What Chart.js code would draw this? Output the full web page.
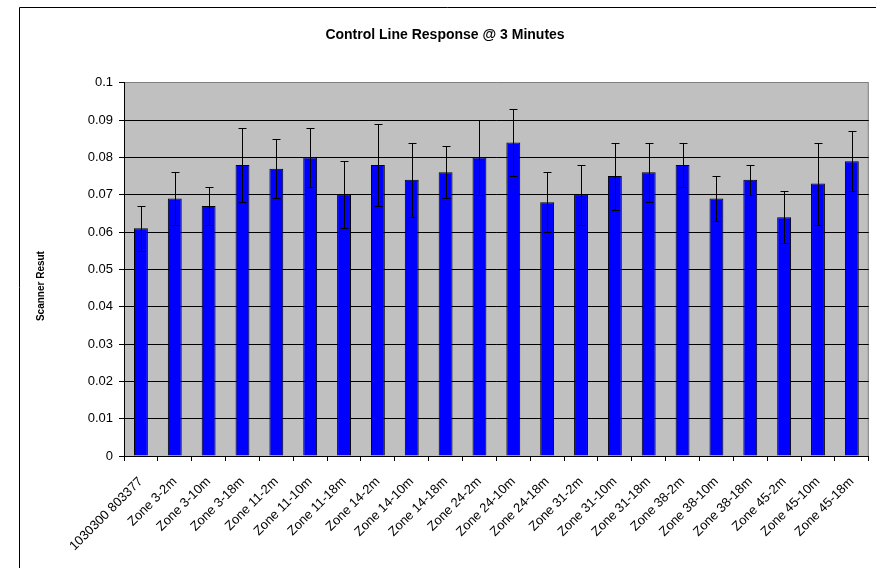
<!DOCTYPE html>
<html>
<head>
<meta charset="utf-8">
<title>Control Line Response @ 3 Minutes</title>
<script src="https://cdn.jsdelivr.net/npm/chart.js@4/dist/chart.umd.min.js"></script>
<style>
    html, body { margin: 0; padding: 0; background: #fff; }
    #wrap { width: 876px; height: 568px; position: relative; }
</style>
</head>
<body>
<div id="wrap"><canvas id="chart"></canvas></div>
<script>
// values
const categories = [
    "1030300 803377", "Zone 3-2m", "Zone 3-10m", "Zone 3-18m",
    "Zone 11-2m", "Zone 11-10m", "Zone 11-18m", "Zone 14-2m",
    "Zone 14-10m", "Zone 14-18m", "Zone 24-2m", "Zone 24-10m",
    "Zone 24-18m", "Zone 31-2m", "Zone 31-10m", "Zone 31-18m",
    "Zone 38-2m", "Zone 38-10m", "Zone 38-18m", "Zone 45-2m",
    "Zone 45-10m", "Zone 45-18m",
];
const scannerResult = [
    0.061, 0.069, 0.067, 0.078, 0.077, 0.080, 0.070, 0.078,
    0.074, 0.076, 0.080, 0.084, 0.068, 0.070, 0.075, 0.076,
    0.078, 0.069, 0.074, 0.064, 0.073, 0.079,
];
// symmetric error (+/-)
const errorAmount = [
    0.006, 0.007, 0.005, 0.010, 0.008, 0.008, 0.009, 0.011,
    0.010, 0.007, 0.010, 0.009, 0.008, 0.008, 0.009, 0.008,
    0.006, 0.006, 0.004, 0.007, 0.011, 0.008,
];
const yTicks = [0, 0.01, 0.02, 0.03, 0.04, 0.05, 0.06, 0.07, 0.08, 0.09, 0.1];

const FONT = "Arial, 'Liberation Sans', sans-serif";

// grey plot area + outer frame
const backdrop = {
    id: "backdrop",
    beforeDraw(chart) {
        const { ctx, chartArea: a } = chart;
        ctx.save();
        ctx.fillStyle = "#c0c0c0";
        ctx.fillRect(a.left, a.top, a.right - a.left, a.bottom - a.top);
        ctx.strokeStyle = "#808080";
        ctx.lineWidth = 1;
        ctx.beginPath();
        ctx.moveTo(a.right - 0.5, a.top);
        ctx.lineTo(a.right - 0.5, a.bottom);
        ctx.stroke();
        // chart frame (left + top edge visible)
        ctx.strokeStyle = "#000";
        ctx.beginPath();
        ctx.moveTo(19.5, chart.height);
        ctx.lineTo(19.5, 7.5);
        ctx.lineTo(chart.width, 7.5);
        ctx.stroke();
        ctx.restore();
    },
};

// error bars drawn from the y scale
const errorBars = {
    id: "errorBars",
    afterDatasetsDraw(chart) {
        const { ctx } = chart;
        const y = chart.scales.y;
        const meta = chart.getDatasetMeta(0);
        ctx.save();
        ctx.strokeStyle = "#000";
        ctx.lineWidth = 1;
        meta.data.forEach((bar, i) => {
            const x = Math.round(bar.x) + 0.5;
            const hi = Math.round(y.getPixelForValue(scannerResult[i] + errorAmount[i])) + 0.5;
            const lo = Math.round(y.getPixelForValue(scannerResult[i] - errorAmount[i])) + 0.5;
            ctx.beginPath();
            ctx.moveTo(x, hi);
            ctx.lineTo(x, lo);
            ctx.moveTo(x - 4, hi);
            ctx.lineTo(x + 4, hi);
            ctx.moveTo(x - 4, lo);
            ctx.lineTo(x + 4, lo);
            ctx.stroke();
        });
        ctx.restore();
    },
};

new Chart(document.getElementById("chart"), {
    type: "bar",
    data: {
        labels: categories,
        datasets: [
            {
                label: "Scanner Resut",
                data: scannerResult,
                backgroundColor: "#0000ff",
                borderColor: "#000",
                borderWidth: 1,
                barPercentage: 0.41,
                categoryPercentage: 1,
            },
        ],
    },
    options: {
        responsive: true,
        maintainAspectRatio: false,
        animation: false,
        layout: { padding: { left: 20, right: 6, top: 27, bottom: 0 } },
        plugins: {
            legend: { display: false },
            tooltip: { enabled: false },
            title: {
                display: true,
                text: "Control Line Response @ 3 Minutes",
                color: "#000",
                font: { family: FONT, size: 14, weight: "bold" },
                padding: { top: 0, bottom: 39 },
            },
        },
        scales: {
            x: {
                grid: {
                    display: true,
                    drawOnChartArea: false,
                    offset: true,
                    tickLength: 5,
                    color: "#000",
                },
                border: { display: true, color: "#000" },
                ticks: {
                    color: "#000",
                    font: { family: FONT, size: 13 },
                    minRotation: 45,
                    maxRotation: 45,
                    autoSkip: false,
                    padding: 13,
                },
                afterFit: (scale) => {
                    scale.height = 112;
                },
            },
            y: {
                min: 0,
                max: 0.1,
                afterBuildTicks: (scale) => {
                    scale.ticks = yTicks.map((v) => ({ value: v }));
                },
                grid: {
                    color: (ctx) => (ctx.tick && ctx.tick.value === 0.1 ? "#808080" : "#000"),
                    tickColor: "#000",
                    tickLength: 5,
                },
                border: { display: true, color: "#000" },
                ticks: {
                    color: "#000",
                    font: { family: FONT, size: 13 },
                    padding: 6,
                    callback: (v) => String(Number(v.toFixed(2))),
                },
                title: {
                    display: true,
                    // trailing spaces push the text down a bit, like the original
                    text: "Scanner Resut            ",
                    color: "#000",
                    font: { family: FONT, size: 10, weight: "bold" },
                    padding: { top: 15, bottom: 0 },
                },
                afterFit: (scale) => {
                    scale.width = 104;
                },
            },
        },
    },
    plugins: [backdrop, errorBars],
});
</script>
</body>
</html>
